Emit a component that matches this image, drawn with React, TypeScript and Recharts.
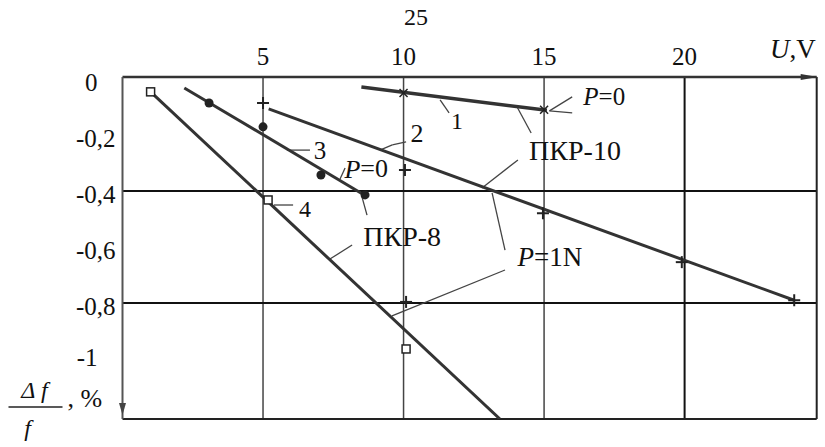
import React from "react";
import {
  ComposedChart,
  Line,
  Scatter,
  XAxis,
  YAxis,
  ReferenceLine,
  ReferenceDot,
} from "recharts";

// U, V
const xTicks = [5, 10, 15, 20];
const xMax = 24.7;
// Δf/f, %
const yTicks = [0, -0.2, -0.4, -0.6, -0.8, -1];
const yGrid = [-0.4, -0.8];
const yMin = -1.214;
const yMax = 0.007;

// 1 — ПКР-10, P = 0
const line1 = [
  { x: 8.5, y: -0.029 },
  { x: 15.1, y: -0.112 },
];
const points1 = [
  { x: 10, y: -0.05 },
  { x: 15, y: -0.11 },
];

// 2 — ПКР-10, P = 1N
const line2 = [
  { x: 5.2, y: -0.107 },
  { x: 23.9, y: -0.79 },
];
const points2 = [
  { x: 5, y: -0.086 },
  { x: 10.05, y: -0.325 },
  { x: 14.96, y: -0.479 },
  { x: 19.9, y: -0.654 },
  { x: 23.9, y: -0.79 },
];

// 3 — ПКР-8, P = 0
const line3 = [
  { x: 2.2, y: -0.032 },
  { x: 8.6, y: -0.414 },
];
const points3 = [
  { x: 3.08, y: -0.086 },
  { x: 5.0, y: -0.171 },
  { x: 7.06, y: -0.343 },
  { x: 8.63, y: -0.414 },
];

// 4 — ПКР-8, P = 1N
const line4 = [
  { x: 1.0, y: -0.046 },
  { x: 13.43, y: -1.214 },
];
const points4 = [
  { x: 1.0, y: -0.046 },
  { x: 5.18, y: -0.432 },
  { x: 10.09, y: -0.964 },
];
const extraPlus = [{ x: 10.09, y: -0.796 }];

const SERIF = "'Liberation Serif', 'Times New Roman', serif";
const INK = "#333";

type Note = { x: number; y: number; text: string; size: number; italicP?: boolean };

const notes: Note[] = [
  { x: 11.9, y: -0.15, text: "1", size: 24 },
  { x: 10.48, y: -0.196, text: "2", size: 26 },
  { x: 7.03, y: -0.254, text: "3", size: 25 },
  { x: 6.49, y: -0.464, text: "4", size: 24 },
  { x: 8.67, y: -0.321, text: "=0", size: 26, italicP: true },
  { x: 17.14, y: -0.061, text: "=0", size: 25, italicP: true },
  { x: 15.21, y: -0.636, text: "=1N", size: 27, italicP: true },
  { x: 9.95, y: -0.561, text: "ПКР-8", size: 28 },
  { x: 16.1, y: -0.254, text: "ПКР-10", size: 28 },
  { x: 10.44, y: 0.221, text: "25", size: 24 },
];

// leader lines from labels to the curves
const leaders: [number, number, number, number][] = [
  [11.3, -0.075, 11.62, -0.121],
  [9.16, -0.254, 9.6, -0.235],
  [9.6, -0.235, 10.09, -0.225],
  [5.85, -0.254, 6.67, -0.254],
  [7.92, -0.318, 7.74, -0.357],
  [5.39, -0.45, 6.07, -0.45],
  [8.7, -0.486, 8.52, -0.421],
  [8.17, -0.593, 7.38, -0.643],
  [14.04, -0.1, 14.54, -0.193],
  [14.07, -0.289, 12.79, -0.389],
  [13.61, -0.611, 13.15, -0.407],
  [13.61, -0.682, 9.59, -0.846],
  [16.0, -0.064, 15.19, -0.114],
  [15.19, -0.114, 16.0, -0.121],
];

const XMark = ({ cx, cy }: any) => (
  <g stroke="#222" strokeWidth={1.5}>
    <line x1={cx - 4} y1={cy - 4} x2={cx + 4} y2={cy + 4} />
    <line x1={cx - 4} y1={cy + 4} x2={cx + 4} y2={cy - 4} />
  </g>
);

const PlusMark = ({ cx, cy }: any) => (
  <g stroke="#222" strokeWidth={2}>
    <line x1={cx - 6} y1={cy} x2={cx + 6} y2={cy} />
    <line x1={cx} y1={cy - 6} x2={cx} y2={cy + 6} />
  </g>
);

const DotMark = ({ cx, cy }: any) => <circle cx={cx} cy={cy} r={4.5} fill="#222" />;

const SquareMark = ({ cx, cy }: any) => (
  <rect x={cx - 4} y={cy - 4} width={8} height={8} fill="#fff" stroke="#222" strokeWidth={1.5} />
);

const XTick = ({ x, y, payload }: any) => (
  <text x={x} y={y - 12} textAnchor="middle" fontSize={25} fontFamily={SERIF} fill="#111">
    {payload.value}
  </text>
);

const YTick = ({ x, y, payload }: any) => {
  const v = payload.value as number;
  const whole = Number.isInteger(v);
  const label = whole ? String(v) : v.toFixed(1).replace(".", ",");
  return (
    <text
      x={whole ? x - 25 : x - 7}
      y={y + (v === -1 ? 7 : 12)}
      textAnchor="end"
      fontSize={25}
      fontFamily={SERIF}
      fill="#111"
    >
      {label}
    </text>
  );
};

const renderNote = (n: Note) => (p: any) => (
  <text
    x={p.cx}
    y={p.cy}
    textAnchor="middle"
    dominantBaseline="central"
    fontSize={n.size}
    fontFamily={SERIF}
    fill="#111"
  >
    {n.italicP && <tspan fontStyle="italic">P</tspan>}
    {n.text}
  </text>
);

const AxisTitles = ({ cx, cy }: any) => (
  <g fontFamily={SERIF} fill="#111">
    <text x={cx - 88} y={cy - 21} textAnchor="middle" fontSize={24} fontStyle="italic">
      Δ f
    </text>
    <line x1={cx - 114} x2={cx - 60} y1={cy - 12} y2={cy - 12} stroke="#222" strokeWidth={1.5} />
    <text x={cx - 95} y={cy + 17} textAnchor="middle" fontSize={24} fontStyle="italic">
      f
    </text>
    <text x={cx - 55} y={cy - 12} fontSize={26}>
      , %
    </text>
    <polygon points={`${cx - 3.5},${cy - 16} ${cx + 3.5},${cy - 16} ${cx},${cy - 4}`} fill="#444" />
  </g>
);

const TopArrow = ({ cx, cy }: any) => (
  <g fontFamily={SERIF} fill="#111">
    <polygon points={`${cx - 16},${cy - 3} ${cx - 16},${cy + 3} ${cx + 1},${cy}`} fill="#333" />
    <text x={cx - 1} y={cy - 19} textAnchor="end" fontSize={27}>
      <tspan fontStyle="italic">U</tspan>,V
    </text>
  </g>
);

export default function App() {
  return (
    <div style={{ position: "absolute", left: 0, top: 0, background: "#fff" }}>
      <ComposedChart
        width={825}
        height={447}
        margin={{ top: 47, right: 8.3, bottom: 28, left: 62.5 }}
      >
        <XAxis
          xAxisId={0}
          type="number"
          dataKey="x"
          orientation="top"
          domain={[0, xMax]}
          ticks={xTicks}
          allowDataOverflow
          height={30}
          tickSize={0}
          tickMargin={0}
          tickLine={false}
          axisLine={{ stroke: "#333", strokeWidth: 2.5 }}
          tick={<XTick />}
        />
        <YAxis
          type="number"
          dataKey="y"
          domain={[yMin, yMax]}
          ticks={yTicks}
          allowDataOverflow
          width={60}
          tickSize={0}
          tickMargin={0}
          tickLine={false}
          axisLine={{ stroke: "#555", strokeWidth: 2 }}
          tick={<YTick />}
        />

        {xTicks.map((t) => (
          <ReferenceLine key={`vx${t}`} x={t} stroke={t === 20 ? "#111" : "#444"} strokeWidth={t === 20 ? 2 : 1.5} />
        ))}
        {yGrid.map((t) => (
          <ReferenceLine key={`hy${t}`} y={t} stroke="#111" strokeWidth={2} />
        ))}
        <ReferenceLine x={xMax} stroke="#222" strokeWidth={2} />
        <ReferenceLine y={yMin} stroke="#222" strokeWidth={2} />

        {leaders.map(([x1, y1, x2, y2], i) => (
          <ReferenceLine
            key={`ld${i}`}
            segment={[
              { x: x1, y: y1 },
              { x: x2, y: y2 },
            ]}
            stroke="#444"
            strokeWidth={1.3}
            ifOverflow="visible"
          />
        ))}

        <Line data={line1} dataKey="y" type="linear" stroke={INK} strokeWidth={3.5} dot={false} isAnimationActive={false} />
        <Line data={line2} dataKey="y" type="linear" stroke={INK} strokeWidth={3} dot={false} isAnimationActive={false} />
        <Line data={line3} dataKey="y" type="linear" stroke={INK} strokeWidth={3} dot={false} isAnimationActive={false} />
        <Line data={line4} dataKey="y" type="linear" stroke={INK} strokeWidth={3} dot={false} isAnimationActive={false} />

        <Scatter data={points1} dataKey="y" shape={(p: any) => <XMark cx={p.cx} cy={p.cy} />} isAnimationActive={false} />
        <Scatter data={points2} dataKey="y" shape={(p: any) => <PlusMark cx={p.cx} cy={p.cy} />} isAnimationActive={false} />
        <Scatter data={points3} dataKey="y" shape={(p: any) => <DotMark cx={p.cx} cy={p.cy} />} isAnimationActive={false} />
        <Scatter data={points4} dataKey="y" shape={(p: any) => <SquareMark cx={p.cx} cy={p.cy} />} isAnimationActive={false} />
        <Scatter data={extraPlus} dataKey="y" shape={(p: any) => <PlusMark cx={p.cx} cy={p.cy} />} isAnimationActive={false} />

        {notes.map((n, i) => (
          <ReferenceDot key={`nt${i}`} x={n.x} y={n.y} r={1} ifOverflow="visible" shape={renderNote(n)} />
        ))}
        <ReferenceDot x={0} y={yMin} r={1} ifOverflow="visible" shape={(p: any) => <AxisTitles cx={p.cx} cy={p.cy} />} />
        <ReferenceDot x={xMax} y={yMax} r={1} ifOverflow="visible" shape={(p: any) => <TopArrow cx={p.cx} cy={p.cy} />} />
      </ComposedChart>
    </div>
  );
}
